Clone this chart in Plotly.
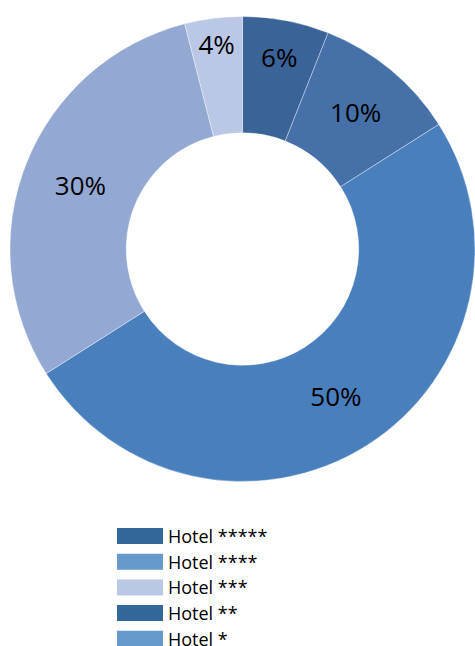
import plotly.graph_objects as go

# Share of hotel categories (clockwise from 12 o'clock)
slice_labels = ["6%", "10%", "50%", "30%", "4%"]
slice_values = [6, 10, 50, 30, 4]
slice_colors = ["#3A6398", "#4571A8", "#4A7FBD", "#93A9D3", "#BAC8E5"]

# Legend entries
legend_labels = ["Hotel *****", "Hotel ****", "Hotel ***", "Hotel **", "Hotel *"]
legend_colors = ["#336699", "#6699CC", "#BAC8E4", "#336699", "#6699CC"]

W, H = 475, 646
FONT = "Open Sans"

fig = go.Figure()
fig.add_trace(go.Pie(
    values=slice_values,
    text=slice_labels,
    textinfo="text",
    textposition="inside",
    insidetextorientation="horizontal",
    textfont=dict(family=FONT, size=26, color="black"),
    marker=dict(colors=slice_colors, line=dict(color="rgba(255,255,255,0.6)", width=0.6)),
    hole=0.5,
    sort=False,
    direction="clockwise",
    rotation=0,
    showlegend=False,
    domain=dict(x=[10 / W, 1.0], y=[1 - 481.5 / H, 1 - 16.5 / H]),
))

# Hand-drawn legend: wide swatches with labels
shapes = []
annotations = []
top0, step, sw_h = 528, 25.7, 16
for i, (lab, col) in enumerate(zip(legend_labels, legend_colors)):
    y0 = top0 + i * step
    shapes.append(dict(
        type="rect", xref="paper", yref="paper",
        x0=117 / W, x1=163 / W,
        y0=1 - (y0 + sw_h) / H, y1=1 - y0 / H,
        fillcolor=col, line=dict(width=0),
    ))
    annotations.append(dict(
        text=lab, xref="paper", yref="paper",
        x=166 / W, y=1 - (y0 + sw_h / 2) / H,
        xanchor="left", yanchor="middle", showarrow=False,
        font=dict(family=FONT, size=18, color="black"),
    ))

fig.update_layout(
    width=W, height=H,
    margin=dict(l=0, r=0, t=0, b=0),
    paper_bgcolor="white",
    plot_bgcolor="white",
    shapes=shapes,
    annotations=annotations,
    uniformtext=dict(minsize=26, mode="show"),
)

fig.write_html("out.html")
